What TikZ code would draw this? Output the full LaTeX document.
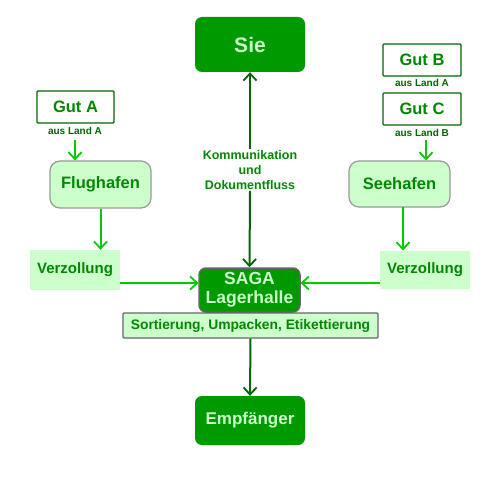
\documentclass[tikz,border=0pt]{standalone}
\usepackage{fontspec}
\setmainfont{Liberation Sans}
\usetikzlibrary{arrows.meta}
\definecolor{dkfill}{HTML}{009900}
\definecolor{ltfill}{HTML}{CCFFCC}
\definecolor{txtgreen}{HTML}{008800}
\definecolor{dkline}{HTML}{006600}
\definecolor{ltline}{HTML}{00CC00}
\definecolor{grayb}{HTML}{999999}
\definecolor{grayd}{HTML}{666666}
\tikzset{
  darkbox/.style={fill=dkfill, rounded corners=7pt, text=ltfill, font=\bfseries\fontsize{17}{19}\selectfont, align=center, inner sep=0pt},
  portbox/.style={fill=ltfill, draw=grayb, line width=1.2pt, rounded corners=10pt, text=txtgreen, font=\bfseries\fontsize{16.5}{18}\selectfont, inner sep=0pt},
  zollbox/.style={fill=ltfill, text=txtgreen, font=\bfseries\fontsize{15}{17}\selectfont, inner sep=0pt},
  gutbox/.style={draw=dkline, line width=1.2pt, rounded corners=1pt, text=txtgreen, font=\bfseries\fontsize{16.5}{18}\selectfont, inner sep=0pt},
  smalltxt/.style={text=dkline, font=\bfseries\fontsize{10}{11}\selectfont, inner sep=0pt},
  ltarrow/.style={draw=ltline, line width=2pt, -{Straight Barb[length=7pt,width=13pt,line width=1.8pt]}},
  dkarrow/.style={draw=dkline, line width=2pt, -{Straight Barb[length=7pt,width=13pt,line width=1.8pt]}},
}
\begin{document}
\begin{tikzpicture}[x=1pt,y=-1pt]
\useasboundingbox (0,0) rectangle (500,500);
\fill[white] (0,0) rectangle (500,500);
% main boxes
\node[darkbox, minimum width=110pt, minimum height=55pt, font=\bfseries\fontsize{21}{23}\selectfont] (sie) at (250,44.5) {Sie};
\node[darkbox, draw=grayd, line width=1.5pt, minimum width=101pt, minimum height=44pt, font=\bfseries\fontsize{17.5}{19}\selectfont] (saga) at (249.5,290) {SAGA\\Lagerhalle};
\node[fill=ltfill, draw=grayd, line width=1.2pt, rounded corners=1pt, minimum width=255pt, minimum height=25pt, text=txtgreen, font=\bfseries\fontsize{13.8}{15}\selectfont, inner sep=0pt] (sort) at (250.5,325.5) {Sortierung, Umpacken, Etikettierung};
\node[darkbox, minimum width=110pt, minimum height=49pt] (emp) at (250,420.5) {Empfänger};
% left
\node[gutbox, minimum width=77pt, minimum height=32pt] (guta) at (75.5,107) {Gut A};
\node[smalltxt] (landa) at (75,131) {aus Land A};
\node[portbox, minimum width=101pt, minimum height=47pt] (flug) at (100.5,184.5) {Flughafen};
\node[zollbox, minimum width=90pt, minimum height=40pt] (zl) at (75,270) {Verzollung};
% right
\node[gutbox, minimum width=78pt, minimum height=32pt] (gutb) at (422,60) {Gut B};
\node[smalltxt] (landb) at (422,83) {aus Land A};
\node[gutbox, minimum width=78pt, minimum height=32pt] (gutc) at (422,109) {Gut C};
\node[smalltxt] (landc) at (422,133) {aus Land B};
\node[portbox, minimum width=101pt, minimum height=46pt] (see) at (399.5,184) {Seehafen};
\node[zollbox, minimum width=90pt, minimum height=38pt] (zr) at (425,270) {Verzollung};
% communication label
\node[text=txtgreen, font=\bfseries\fontsize{12.5}{15}\selectfont, align=center, fill=white, inner sep=1pt] (komm) at (250,170) {Kommunikation\\und\\Dokumentfluss};
% arrows
\coordinate (a1) at (75,140);
\coordinate (a1e) at (75,160.5);
\draw[ltarrow] (a1) -- (a1e);
\draw[ltarrow] (flug.south) -- (zl.north -| flug.south);
\coordinate (zlr) at (120,283);
\coordinate (sagal) at (198.5,283);
\draw[ltarrow] (zlr) -- (sagal);
\coordinate (a2) at (426,140);
\coordinate (a2e) at (426,160.5);
\draw[ltarrow] (a2) -- (a2e);
\coordinate (s1) at (403,207);
\coordinate (s2) at (403,250.5);
\draw[ltarrow] (s1) -- (s2);
\coordinate (zrl) at (380,283);
\coordinate (sagar) at (300.5,283);
\draw[ltarrow] (zrl) -- (sagar);
\draw[dkarrow] (komm.north) -- (sie.south);
\draw[dkarrow] (komm.south) -- (saga.north);
\draw[dkarrow] (sort.south) -- (emp.north);
\end{tikzpicture}
\end{document}
